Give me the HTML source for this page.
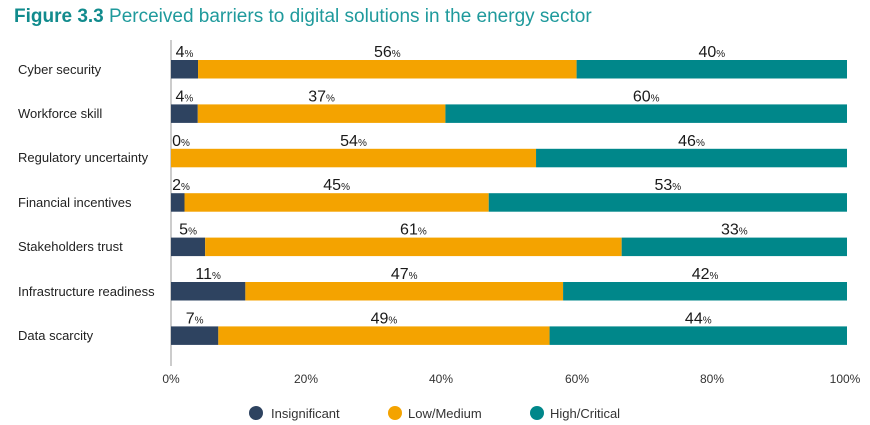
<!DOCTYPE html>
<html><head><meta charset="utf-8"><style>
html,body{margin:0;padding:0;background:#fff;}
svg{display:block;}
</style></head><body>
<svg width="870" height="425" viewBox="0 0 870 425" xmlns="http://www.w3.org/2000/svg" font-family="Liberation Sans, sans-serif">
<text x="14" y="22" font-size="19" fill="#1f9a9c"><tspan font-weight="bold" fill="#118b8d">Figure 3.3</tspan> Perceived barriers to digital solutions in the energy sector</text>
<line x1="171" y1="40" x2="171" y2="366" stroke="#ccc" stroke-width="2"/>
<g font-size="13" fill="#222">
<text x="18" y="74">Cyber security</text>
<text x="18" y="118">Workforce skill</text>
<text x="18" y="162">Regulatory uncertainty</text>
<text x="18" y="207">Financial incentives</text>
<text x="18" y="251">Stakeholders trust</text>
<text x="18" y="296">Infrastructure readiness</text>
<text x="18" y="340">Data scarcity</text>
</g>
<g id="bars"></g>
<g font-size="12" fill="#333" text-anchor="middle">
<text x="171" y="383">0%</text><text x="306" y="383">20%</text><text x="441" y="383">40%</text><text x="577" y="383">60%</text><text x="712" y="383">80%</text><text x="845" y="383">100%</text>
</g>
<g font-size="13" fill="#333">
<circle cx="256" cy="413" r="7" fill="#2e4360"/><text x="271" y="418">Insignificant</text>
<circle cx="395" cy="413" r="7" fill="#f4a300"/><text x="408" y="418">Low/Medium</text>
<circle cx="537" cy="413" r="7" fill="#00878a"/><text x="550" y="418">High/Critical</text>
</g>
<script>
var d=[[4,56,40],[4,37,60],[0,54,46],[2,45,53],[5,61,33],[11,47,42],[7,49,44]];
var g=document.getElementById('bars'),ns='http://www.w3.org/2000/svg',c=['#2e4360','#f4a300','#00878a'];
var x0=171,W=676;
d.forEach(function(r,i){var y=60+i*44.4,acc=0;var tot=r[0]+r[1]+r[2];
r.forEach(function(v,j){var a=x0+W*acc/tot,b=x0+W*(acc+v)/tot;acc+=v;
var re=document.createElementNS(ns,'rect');re.setAttribute('x',a);re.setAttribute('y',y);re.setAttribute('width',Math.max(b-a,0));re.setAttribute('height',18.5);re.setAttribute('fill',c[j]);g.appendChild(re);
var t=document.createElementNS(ns,'text');var cx=(a+b)/2;if(j==0)cx=Math.max(cx,x0+10);
t.setAttribute('x',cx);t.setAttribute('y',y-3);t.setAttribute('text-anchor','middle');t.setAttribute('fill','#1a1a1a');
t.setAttribute('font-size','16');
var s1=document.createElementNS(ns,'tspan');s1.textContent=String(v);
var s2=document.createElementNS(ns,'tspan');s2.setAttribute('font-size','10');s2.textContent='%';
t.appendChild(s1);t.appendChild(s2);g.appendChild(t);});});
</script>
</svg>
</body></html>
